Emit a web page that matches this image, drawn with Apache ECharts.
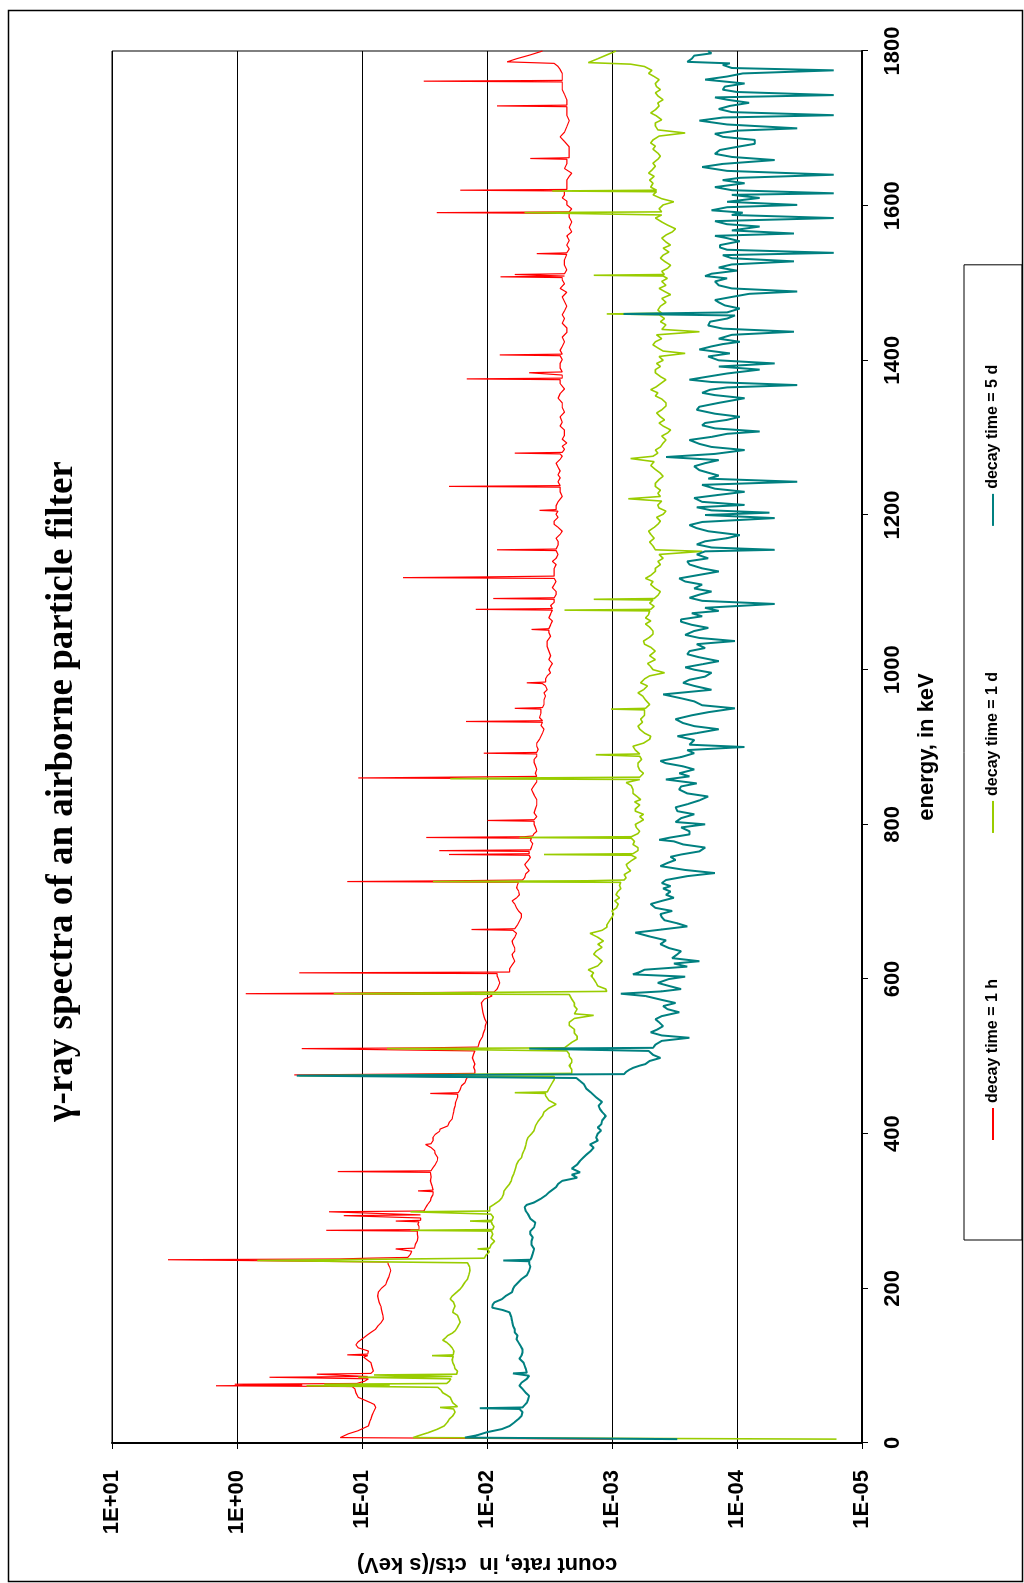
<!DOCTYPE html>
<html>
<head>
<meta charset="utf-8">
<title>gamma spectra</title>
<script src="https://cdn.jsdelivr.net/npm/echarts@6/dist/echarts.min.js"></script>
<style>
  html, body { margin: 0; padding: 0; background: #fff; overflow: hidden; }
  body { width: 1024px; height: 1583px; position: relative; }
  /* chart is drawn landscape and turned a quarter turn to the left */
  #chart {
    position: absolute; left: 0; top: 0;
    width: 1583px; height: 1024px;
    transform-origin: 0 0;
    transform: translate(0px, 1583px) rotate(-90deg);
  }
</style>
</head>
<body>
<div id="chart"></div>
<script>
// ---- data: [energy keV, count rate cts/(s keV)] ----
const seriesNames = ['decay time = 1 h', 'decay time = 1 d', 'decay time = 5 d'];
const energyTicks = [0, 200, 400, 600, 800, 1000, 1200, 1400, 1600, 1800];

const rate1h = [
  [5,1.0e-3],[7,0.149],[12,0.128],[16,0.107],[22,0.089],[27,0.087],[31,0.085],[36,0.083],[40,0.081],[46,0.0775],
  [50,0.08],[52,0.085],[56,0.097],[59,0.107],[65,0.112],[70,0.114],[73,0.12],[74,1.47],[75,0.3],[76,1.04],[77,0.11],
  [80,0.095],[83,0.089],[85,0.55],[86,0.09],[89,0.23],[90,0.085],[93,0.081],[98,0.083],[104,0.085],[108,0.092],
  [111,0.097],[113,0.09],[114,0.131],[115,0.09],[119,0.089],[123,0.107],[127,0.112],[131,0.107],[136,0.097],
  [140,0.09],[143,0.085],[147,0.078],[152,0.074],[156,0.07],[160,0.0675],[165,0.068],[169,0.069],[173,0.07],
  [177,0.0707],[182,0.073],[186,0.074],[190,0.075],[195,0.074],[200,0.07],[205,0.0645],[210,0.063],[215,0.061],
  [219,0.06],[223,0.0589],[227,0.06],[231,0.0617],[234,0.062],[236,0.062],[237,3.56],[238,0.15],[239,0.089],
  [240,0.043],[244,0.041],[248,0.04],[251,0.0538],[252,0.038],[257,0.0374],[262,0.036],[266,0.0357],[270,0.036],
  [274,0.036],[275,0.193],[276,0.035],[280,0.035],[283,0.0357],[286,0.035],[287,0.0538],[288,0.034],[291,0.034],
  [293,0.034],[294,0.14],[295,0.034],[297,0.033],[299,0.184],[300,0.032],[304,0.031],[308,0.03],[313,0.0284],
  [317,0.028],[321,0.0271],[325,0.027],[326,0.0357],[327,0.027],[332,0.0275],[339,0.0284],[344,0.028],[350,0.0284],
  [351,0.156],[352,0.028],[356,0.027],[360,0.0259],[365,0.025],[369,0.0248],[374,0.026],[378,0.0262],[382,0.028],
  [386,0.031],[387,0.028],[391,0.027],[395,0.0271],[399,0.026],[403,0.024],[406,0.0237],[410,0.0206],[415,0.02],
  [419,0.019],[423,0.0188],[428,0.0185],[432,0.0183],[436,0.018],[441,0.0178],[447,0.0172],[451,0.0172],
  [452,0.0284],[453,0.017],[457,0.0164],[462,0.016],[466,0.015],[470,0.0147],[473,0.0143],[475,0.0143],
  [476,0.349],[477,0.05],[478,0.0125],[482,0.0125],[486,0.0128],[490,0.0125],[494,0.0128],[498,0.0131],
  [503,0.0128],[507,0.0125],[509,0.0125],[510,0.304],[511,0.03],[512,0.0118],[516,0.0116],[520,0.0114],
  [525,0.0109],[530,0.0107],[535,0.0104],[540,0.0103],[544,0.0101],[548,0.0104],[552,0.0106],[557,0.0108],
  [561,0.0109],[565,0.011],[569,0.0111],[574,0.0105],[578,0.0091],[580,0.0095],[581,0.853],[582,0.1],
  [583,0.0088],[587,0.0083],[591,0.0081],[595,0.0079],[600,0.0081],[604,0.0083],[607,0.0083],[608,0.318],
  [609,0.0066],[613,0.0066],[618,0.0063],[623,0.006],[628,0.0062],[632,0.0063],[636,0.006],[640,0.006],
  [645,0.0062],[649,0.0063],[654,0.006],[659,0.0058],[663,0.0062],[664,0.0133],[665,0.006],[670,0.0057],
  [675,0.0055],[680,0.0053],[684,0.0053],[688,0.0056],[692,0.0058],[697,0.006],[701,0.0063],[705,0.0058],
  [709,0.0055],[714,0.0056],[718,0.0058],[722,0.0057],[725,0.0056],[726,0.131],[727,0.02],[728,0.0052],
  [731,0.005],[736,0.0049],[740,0.0046],[744,0.0048],[748,0.005],[753,0.0047],[757,0.0045],[760,0.0046],
  [761,0.0201],[762,0.0046],[765,0.0046],[766,0.0241],[767,0.0045],[771,0.0044],[775,0.0043],[779,0.0045],
  [782,0.0044],[783,0.0306],[784,0.005],[785,0.0043],[788,0.0042],[791,0.004],[796,0.0041],[800,0.0042],
  [804,0.0042],[805,0.0099],[806,0.0042],[810,0.004],[815,0.0042],[820,0.0041],[825,0.004],[832,0.004],
  [838,0.0042],[845,0.0044],[850,0.0042],[855,0.004],[859,0.004],[860,0.107],[861,0.02],[862,0.004],
  [866,0.0041],[871,0.004],[876,0.0041],[880,0.0042],[884,0.0042],[888,0.004],[891,0.004],[892,0.0106],
  [893,0.004],[897,0.0039],[901,0.004],[905,0.004],[910,0.0038],[914,0.0037],[918,0.0036],[923,0.0035],
  [928,0.0037],[932,0.0036],[933,0.0147],[934,0.0036],[938,0.0038],[944,0.0037],[949,0.0037],[950,0.006],
  [951,0.0036],[955,0.0035],[961,0.0035],[966,0.0034],[970,0.0035],[974,0.0033],[979,0.0034],[982,0.0036],
  [983,0.0048],[984,0.0034],[988,0.0034],[992,0.0033],[996,0.0031],[1000,0.0032],[1004,0.0031],[1008,0.003],
  [1013,0.0032],[1018,0.0031],[1024,0.0032],[1030,0.0033],[1037,0.0033],[1043,0.0031],[1048,0.0032],
  [1051,0.0032],[1052,0.0044],[1053,0.0032],[1058,0.0031],[1063,0.003],[1067,0.0032],[1072,0.0031],
  [1077,0.003],[1078,0.0123],[1079,0.003],[1083,0.0031],[1087,0.0029],[1091,0.0029],[1092,0.0089],
  [1093,0.0029],[1097,0.0028],[1101,0.0028],[1106,0.003],[1110,0.0029],[1114,0.0028],[1118,0.0029],
  [1119,0.047],[1120,0.01],[1121,0.0029],[1126,0.0029],[1131,0.0029],[1136,0.0028],[1140,0.003],[1144,0.0028],
  [1149,0.0027],[1154,0.0028],[1155,0.0083],[1156,0.0028],[1161,0.0027],[1166,0.0027],[1170,0.0028],
  [1175,0.0026],[1179,0.0025],[1184,0.0027],[1188,0.0029],[1192,0.0029],[1197,0.0027],[1201,0.0028],
  [1205,0.0027],[1206,0.0038],[1207,0.0028],[1212,0.0028],[1217,0.0027],[1224,0.0025],[1230,0.0026],
  [1236,0.0026],[1237,0.0201],[1238,0.0026],[1243,0.0027],[1248,0.0026],[1252,0.0027],[1257,0.0026],
  [1262,0.0027],[1267,0.0028],[1272,0.0026],[1276,0.0025],[1279,0.0026],[1280,0.006],[1281,0.0025],
  [1285,0.0024],[1289,0.0025],[1293,0.0023],[1298,0.0025],[1303,0.0024],[1310,0.0024],[1315,0.0026],
  [1320,0.0025],[1327,0.0026],[1333,0.0024],[1339,0.0025],[1345,0.0025],[1351,0.0027],[1357,0.0026],
  [1363,0.0024],[1370,0.0026],[1375,0.0026],[1376,0.0145],[1377,0.0025],[1381,0.0025],[1383,0.0025],
  [1384,0.0046],[1385,0.0025],[1390,0.0026],[1396,0.0026],[1401,0.0025],[1406,0.0026],[1407,0.0079],
  [1408,0.0025],[1413,0.0026],[1418,0.0025],[1424,0.0024],[1430,0.0025],[1436,0.0023],[1442,0.0023],
  [1448,0.0025],[1454,0.0024],[1459,0.0025],[1464,0.0024],[1470,0.0023],[1476,0.0024],[1482,0.0025],
  [1488,0.0023],[1493,0.0026],[1499,0.0024],[1504,0.0025],[1507,0.0025],[1508,0.0078],[1509,0.0024],
  [1511,0.006],[1512,0.0024],[1517,0.0023],[1523,0.0024],[1530,0.0024],[1537,0.0023],[1538,0.004],
  [1539,0.0023],[1544,0.0022],[1549,0.0023],[1555,0.0022],[1561,0.0023],[1566,0.0021],[1572,0.0022],
  [1579,0.0021],[1585,0.0022],[1590,0.0022],[1591,0.0252],[1592,0.0022],[1596,0.0021],[1601,0.0023],
  [1606,0.0023],[1610,0.0025],[1614,0.0024],[1619,0.0024],[1620,0.0164],[1621,0.0023],[1626,0.0023],
  [1633,0.0023],[1638,0.0022],[1642,0.0021],[1648,0.0024],[1654,0.0023],[1660,0.0023],[1661,0.0045],
  [1662,0.0022],[1668,0.0022],[1676,0.0022],[1683,0.0024],[1689,0.0026],[1695,0.0024],[1702,0.0023],
  [1710,0.0022],[1717,0.0023],[1724,0.0023],[1728,0.0023],[1729,0.0083],[1730,0.0023],[1737,0.0023],
  [1744,0.0024],[1750,0.0025],[1755,0.0025],[1760,0.0025],[1761,0.032],[1762,0.0025],[1766,0.0025],
  [1771,0.0025],[1776,0.0026],[1780,0.0027],[1784,0.0029],[1786,0.0069],[1790,0.0058],[1795,0.0045],[1800,0.0036]
];

const rate1d = [
  [5,1.6e-5],[7,0.039],[9,0.036],[13,0.03],[18,0.0248],[22,0.022],[27,0.0207],[31,0.02],[35,0.0188],[40,0.018],
  [44,0.0185],[46,0.0237],[47,0.0172],[52,0.0188],[56,0.0193],[59,0.0197],[62,0.021],[65,0.0226],[69,0.0235],
  [72,0.0248],[73,0.025],[74,0.278],[75,0.06],[76,0.2],[77,0.021],[80,0.02],[83,0.0195],[85,0.107],[86,0.019],
  [88,0.08],[89,0.0175],[93,0.0172],[96,0.018],[100,0.0183],[104,0.0188],[108,0.019],[112,0.0186],[113,0.0275],
  [114,0.0186],[119,0.0184],[123,0.019],[126,0.0197],[130,0.021],[133,0.0226],[136,0.0215],[139,0.0206],
  [142,0.019],[145,0.018],[150,0.0172],[156,0.0164],[161,0.0168],[165,0.0172],[169,0.0188],[173,0.0185],
  [177,0.018],[182,0.0185],[186,0.0197],[190,0.019],[195,0.0175],[199,0.0164],[203,0.0157],[208,0.015],
  [212,0.0143],[217,0.014],[223,0.0137],[228,0.0138],[233,0.0143],[235,0.0141],[236,0.69],[239,0.0105],
  [243,0.0102],[247,0.0096],[250,0.0098],[251,0.0119],[252,0.0095],[256,0.0093],[261,0.0087],[265,0.0093],
  [270,0.009],[274,0.0092],[275,0.0409],[276,0.009],[280,0.0088],[283,0.0091],[286,0.0092],[287,0.0137],
  [288,0.0091],[292,0.0089],[296,0.0093],[298,0.0095],[299,0.0409],[300,0.0095],[305,0.0095],[309,0.0087],
  [313,0.008],[317,0.0076],[321,0.0074],[326,0.0073],[330,0.007],[335,0.0066],[339,0.0064],[343,0.0063],
  [348,0.0061],[352,0.006],[356,0.0059],[360,0.0058],[365,0.0056],[369,0.0053],[374,0.0052],[380,0.005],
  [385,0.0049],[391,0.0048],[395,0.0047],[400,0.0044],[404,0.0042],[410,0.0041],[416,0.0039],[423,0.0036],
  [428,0.0035],[433,0.0032],[438,0.0028],[443,0.0032],[449,0.0034],[452,0.0034],[453,0.006],[454,0.0033],
  [458,0.0032],[462,0.0031],[466,0.003],[470,0.0029],[474,0.0029],[475,0.318],[476,0.05],[478,0.0021],
  [483,0.0021],[488,0.0022],[492,0.0021],[496,0.0021],[500,0.0022],[503,0.0022],[507,0.0023],[509,0.0023],
  [510,0.063],[511,0.0024],[513,0.0024],[518,0.0021],[522,0.0019],[526,0.0019],[530,0.002],[535,0.002],
  [540,0.0022],[544,0.0022],[549,0.002],[553,0.0014],[555,0.002],[561,0.0019],[565,0.002],[569,0.002],
  [574,0.0021],[580,0.0022],[581,0.168],[584,0.0011],[587,0.00112],[591,0.0013],[595,0.00134],[600,0.0014],
  [604,0.00147],[608,0.0014],[612,0.00155],[617,0.0013],[623,0.0012],[628,0.0013],[632,0.0014],[636,0.00134],
  [641,0.0012],[645,0.0013],[649,0.00117],[654,0.0013],[659,0.0015],[663,0.0012],[667,0.0011],[670,0.0011],
  [675,0.00105],[680,0.001],[684,0.00097],[688,0.001],[692,0.00092],[697,0.00089],[701,0.00095],[705,0.00087],
  [709,0.00093],[713,0.0009],[717,0.00085],[721,0.00087],[725,0.00085],[726,0.027],[727,0.0016],[728,0.0008],
  [731,0.00077],[735,0.0008],[740,0.00071],[744,0.00075],[748,0.00077],[753,0.0007],[757,0.00064],[760,0.0007],
  [761,0.0035],[762,0.00068],[766,0.00062],[770,0.00062],[774,0.00068],[778,0.00066],[782,0.0007],[783,0.0055],
  [784,0.0007],[788,0.00062],[791,0.0006],[796,0.00064],[800,0.00065],[803,0.0006],[806,0.00056],[810,0.0006],
  [813,0.00056],[817,0.00065],[820,0.00065],[825,0.0006],[829,0.00066],[832,0.00059],[836,0.00063],
  [840,0.00068],[845,0.00068],[850,0.0007],[854,0.00077],[858,0.0006],[859,0.0197],[860,0.005],[861,0.0006],
  [866,0.00056],[870,0.0006],[875,0.00062],[879,0.00062],[884,0.00058],[888,0.0006],[890,0.00135],[891,0.0006],
  [896,0.00065],[901,0.00068],[905,0.00056],[910,0.0005],[914,0.00049],[918,0.00055],[923,0.0006],[927,0.00062],
  [932,0.00057],[936,0.00059],[941,0.00055],[948,0.00055],[949,0.00102],[950,0.00054],[955,0.0005],
  [961,0.00054],[966,0.00057],[970,0.00062],[974,0.00056],[979,0.00052],[983,0.00059],[988,0.00055],
  [992,0.0005],[996,0.00038],[1000,0.00047],[1004,0.00049],[1008,0.00052],[1013,0.00045],[1018,0.0005],
  [1024,0.00045],[1029,0.00049],[1033,0.00055],[1037,0.00056],[1042,0.0005],[1046,0.00047],[1050,0.00047],
  [1055,0.0005],[1059,0.00054],[1063,0.00049],[1067,0.00054],[1071,0.00051],[1076,0.0005],[1077,0.0024],
  [1078,0.00049],[1082,0.00046],[1086,0.0005],[1090,0.00047],[1091,0.0014],[1092,0.00046],[1096,0.00043],
  [1101,0.00041],[1105,0.00045],[1110,0.00049],[1114,0.00047],[1118,0.00054],[1122,0.00049],[1127,0.00045],
  [1131,0.00045],[1136,0.00041],[1140,0.00043],[1144,0.00039],[1149,0.00042],[1153,0.00019],[1155,0.00045],
  [1160,0.00047],[1165,0.0005],[1170,0.00046],[1175,0.00049],[1179,0.00051],[1184,0.00046],[1188,0.00043],
  [1192,0.00041],[1197,0.00044],[1201,0.00039],[1205,0.00037],[1209,0.00042],[1213,0.00043],[1218,0.0004],
  [1221,0.00074],[1224,0.00041],[1228,0.00043],[1232,0.00041],[1237,0.00045],[1241,0.00045],[1246,0.00042],
  [1250,0.00039],[1254,0.00041],[1259,0.00045],[1264,0.00049],[1269,0.00046],[1273,0.00071],[1276,0.00047],
  [1280,0.00043],[1284,0.00045],[1288,0.00041],[1293,0.00039],[1297,0.00037],[1302,0.0004],[1306,0.00036],
  [1310,0.00034],[1315,0.00039],[1319,0.00042],[1323,0.00038],[1327,0.00041],[1332,0.00044],[1336,0.0004],
  [1341,0.00037],[1345,0.00037],[1350,0.0004],[1354,0.00045],[1358,0.00043],[1362,0.00049],[1366,0.00044],
  [1371,0.0004],[1375,0.00037],[1379,0.00041],[1384,0.00045],[1388,0.00045],[1392,0.00041],[1396,0.00044],
  [1400,0.00039],[1405,0.00042],[1409,0.00026],[1412,0.00039],[1416,0.00043],[1420,0.00047],[1424,0.00045],
  [1428,0.0004],[1433,0.00044],[1437,0.0002],[1440,0.0004],[1446,0.00037],[1450,0.00041],[1454,0.00038],
  [1459,0.00042],[1460,0.0011],[1461,0.0004],[1465,0.00043],[1470,0.00041],[1475,0.00037],[1480,0.0004],
  [1485,0.00034],[1489,0.00038],[1493,0.00042],[1497,0.00037],[1502,0.0004],[1506,0.00036],[1509,0.00039],
  [1510,0.0014],[1511,0.00038],[1515,0.0004],[1519,0.00036],[1523,0.00034],[1528,0.00038],[1532,0.00041],
  [1536,0.00039],[1540,0.00035],[1545,0.00039],[1549,0.00034],[1553,0.00037],[1558,0.0004],[1562,0.00037],
  [1566,0.00033],[1570,0.00031],[1575,0.00036],[1579,0.0004],[1584,0.00045],[1588,0.0004],[1590,0.0004],
  [1591,0.005],[1592,0.0004],[1596,0.00042],[1601,0.00039],[1605,0.00032],[1609,0.0004],[1614,0.00047],
  [1618,0.00044],[1619,0.003],[1620,0.00044],[1624,0.00049],[1629,0.00047],[1633,0.0005],[1638,0.00046],
  [1642,0.00051],[1646,0.00048],[1651,0.00045],[1655,0.00047],[1660,0.00043],[1664,0.00041],[1668,0.00043],
  [1673,0.00047],[1677,0.00045],[1681,0.00049],[1685,0.00047],[1690,0.00042],[1694,0.00026],[1698,0.00043],
  [1703,0.00045],[1707,0.00045],[1711,0.0004],[1716,0.00044],[1720,0.00049],[1724,0.00045],[1729,0.00042],
  [1733,0.00043],[1737,0.00039],[1742,0.00043],[1746,0.00045],[1750,0.00041],[1754,0.00044],[1758,0.00045],
  [1763,0.00042],[1767,0.00046],[1771,0.00051],[1775,0.00048],[1780,0.00055],[1783,0.00071],[1785,0.00155],
  [1790,0.0013],[1795,0.0011],[1800,0.00093]
];

const rate5d = [
  [5,3.0e-4],[7,0.015],[10,0.012],[14,0.01],[18,0.0076],[22,0.0066],[27,0.006],[31,0.0056],[35,0.0053],[40,0.0052],
  [44,0.0055],[45,0.0114],[46,0.0052],[49,0.005],[52,0.0048],[56,0.0047],[61,0.0046],[65,0.0049],[70,0.0052],
  [74,0.0055],[78,0.0053],[83,0.0048],[87,0.0046],[90,0.0062],[91,0.0048],[96,0.0049],[100,0.005],[104,0.0051],
  [109,0.0055],[113,0.0053],[117,0.0052],[121,0.0052],[126,0.0054],[130,0.0056],[134,0.0058],[139,0.0057],
  [143,0.006],[147,0.006],[152,0.0062],[158,0.0063],[163,0.0064],[169,0.0066],[172,0.0075],[175,0.0091],
  [179,0.009],[182,0.0087],[186,0.0076],[190,0.0071],[195,0.0063],[199,0.0062],[203,0.006],[208,0.0056],
  [212,0.0053],[217,0.0048],[223,0.0046],[228,0.0045],[232,0.0046],[235,0.0046],[236,0.0074],[237,0.0045],
  [240,0.0044],[245,0.0043],[251,0.0042],[256,0.0044],[261,0.0044],[266,0.0043],[270,0.0045],[274,0.0045],
  [279,0.0042],[285,0.0041],[290,0.0045],[296,0.0047],[300,0.0049],[305,0.005],[308,0.0048],[311,0.0042],
  [316,0.0037],[320,0.0034],[324,0.0032],[326,0.0031],[331,0.0028],[335,0.0027],[339,0.0025],[343,0.0019],
  [347,0.0021],[350,0.0018],[355,0.0021],[360,0.0019],[365,0.0018],[369,0.0017],[373,0.0016],[378,0.00147],
  [382,0.0014],[386,0.0015],[391,0.0013],[395,0.00134],[400,0.0013],[404,0.00122],[408,0.0013],[412,0.00122],
  [417,0.0012],[423,0.00112],[428,0.0012],[432,0.00125],[436,0.00128],[441,0.0012],[447,0.00134],[453,0.00147],
  [458,0.0016],[464,0.00168],[468,0.0018],[472,0.00193],[474,0.002],[475,0.333],[477,0.0008],[480,0.00077],
  [483,0.00072],[485,0.00068],[488,0.0006],[490,0.00054],[494,0.0005],[498,0.00041],[502,0.00047],[507,0.00051],
  [509,0.0005],[510,0.0046],[511,0.00047],[515,0.00045],[520,0.0004],[524,0.00024],[527,0.0004],[531,0.00049],
  [535,0.00043],[539,0.00039],[544,0.00042],[548,0.00045],[552,0.0004],[557,0.00029],[561,0.00036],
  [565,0.00039],[569,0.00031],[573,0.0004],[578,0.00054],[581,0.00085],[584,0.0004],[587,0.00028],[591,0.00035],
  [595,0.00043],[600,0.00035],[603,0.00026],[606,0.00068],[609,0.0006],[612,0.00055],[616,0.00025],[620,0.00032],
  [623,0.0002],[627,0.00033],[632,0.0003],[636,0.00028],[640,0.00035],[645,0.00041],[650,0.00037],[655,0.0005],
  [660,0.00065],[664,0.0004],[668,0.00025],[672,0.0003],[676,0.00038],[680,0.0004],[684,0.00041],[688,0.00033],
  [692,0.00045],[697,0.00049],[701,0.0004],[705,0.00032],[709,0.00037],[713,0.00034],[717,0.00039],[720,0.00034],
  [724,0.0004],[728,0.00037],[733,0.00025],[737,0.00015],[741,0.00026],[746,0.00041],[750,0.00036],[754,0.00031],
  [758,0.00034],[761,0.00028],[765,0.0002],[770,0.00018],[774,0.00027],[778,0.00032],[780,0.00042],[783,0.00034],
  [787,0.00024],[791,0.00024],[796,0.00028],[800,0.00018],[803,0.00031],[808,0.00028],[813,0.00022],[817,0.0003],
  [822,0.00031],[826,0.00025],[831,0.0002],[836,0.00017],[840,0.00025],[845,0.00029],[849,0.00028],[853,0.00021],
  [858,0.00037],[862,0.00024],[866,0.00029],[871,0.00022],[875,0.00027],[879,0.00037],[882,0.00041],[887,0.00028],
  [892,0.00022],[896,0.00025],[900,0.000087],[903,0.00024],[909,0.00022],[914,0.0003],[918,0.00021],[923,0.00014],
  [927,0.00022],[931,0.00027],[936,0.00031],[941,0.00023],[945,0.00017],[950,0.000104],[954,0.00019],[959,0.00022],
  [963,0.00028],[968,0.00039],[971,0.00025],[974,0.00016],[979,0.00022],[983,0.00027],[987,0.00024],[991,0.00018],
  [996,0.00016],[1000,0.00022],[1003,0.00026],[1007,0.00019],[1011,0.00014],[1016,0.0002],[1020,0.00025],
  [1024,0.00024],[1028,0.00018],[1033,0.00021],[1037,0.000104],[1041,0.0002],[1045,0.00026],[1050,0.00022],
  [1054,0.00017],[1058,0.00023],[1062,0.00028],[1065,0.00028],[1069,0.00019],[1073,0.00023],[1076,0.00014],
  [1080,0.00018],[1085,0.00005],[1089,0.00019],[1093,0.00024],[1097,0.0002],[1101,0.00016],[1105,0.00022],
  [1110,0.00019],[1114,0.00026],[1118,0.00029],[1122,0.00021],[1127,0.00014],[1131,0.00019],[1136,0.00024],
  [1140,0.00025],[1144,0.00017],[1149,0.00021],[1153,0.00018],[1155,0.00005],[1158,0.00016],[1162,0.00021],
  [1166,0.00018],[1170,0.00012],[1174,0.000095],[1179,0.00017],[1183,0.00021],[1187,0.00024],[1191,0.00019],
  [1196,0.00005],[1200,0.00018],[1203,0.000055],[1206,0.00016],[1210,0.00021],[1213,0.000087],[1217,0.00019],
  [1222,0.00022],[1226,0.00014],[1230,0.000087],[1234,0.00015],[1239,0.00019],[1243,0.000033],[1247,0.00017],
  [1251,0.00014],[1254,0.000164],[1258,0.0002],[1263,0.00022],[1267,0.00018],[1271,0.00014],[1275,0.00037],
  [1279,0.00015],[1284,0.000087],[1288,0.00016],[1292,0.0002],[1297,0.00024],[1301,0.00016],[1305,0.00012],
  [1308,0.000066],[1312,0.00015],[1316,0.00019],[1319,0.00018],[1323,0.00012],[1327,0.000095],[1331,0.00015],
  [1336,0.00021],[1340,0.0002],[1345,0.00014],[1351,0.000087],[1355,0.00015],[1358,0.00019],[1362,0.000164],
  [1365,0.00012],[1368,0.000033],[1372,0.00016],[1375,0.00024],[1379,0.00017],[1383,0.00012],[1388,0.000066],
  [1392,0.00014],[1396,0.00005],[1400,0.00014],[1405,0.00017],[1409,0.000114],[1414,0.0002],[1418,0.00016],
  [1421,0.00013],[1424,0.000095],[1428,0.00014],[1433,0.00011],[1437,0.000035],[1441,0.00013],[1445,0.00017],
  [1450,0.000164],[1454,0.00012],[1458,0.000104],[1460,0.00081],[1462,0.00012],[1467,0.000095],[1471,0.000125],
  [1475,0.00014],[1478,0.00015],[1482,0.00011],[1486,0.00008],[1489,0.000033],[1493,0.00011],[1497,0.00014],
  [1502,0.00015],[1506,0.00012],[1509,0.00018],[1512,0.00016],[1516,0.0001],[1520,0.00014],[1524,0.00011],
  [1528,0.000035],[1532,0.00011],[1536,0.00013],[1539,0.0000168],[1543,0.00012],[1546,0.000137],[1549,0.000137],
  [1554,0.000095],[1558,0.00012],[1561,0.00015],[1564,0.000035],[1568,0.00011],[1573,0.000066],[1576,0.00012],
  [1580,0.00015],[1584,0.0000168],[1588,0.00011],[1591,0.00009],[1594,0.00016],[1598,0.00012],[1601,0.000033],
  [1605,0.00012],[1610,0.000066],[1614,0.00011],[1616,0.0000168],[1620,0.00011],[1624,0.00015],[1629,0.000087],
  [1633,0.00013],[1636,0.000095],[1640,0.0000168],[1645,0.00012],[1650,0.00019],[1654,0.00013],[1659,0.00005],
  [1663,0.00011],[1667,0.00015],[1672,0.000137],[1676,0.0001],[1680,0.000072],[1685,0.000072],[1689,0.00013],
  [1693,0.00015],[1697,0.0001],[1700,0.000033],[1705,0.00012],[1710,0.0002],[1714,0.00013],[1717,0.0000168],
  [1721,0.00011],[1725,0.00014],[1729,0.000114],[1733,0.00008],[1737,0.00012],[1740,0.00015],[1743,0.0000168],
  [1747,0.0001],[1750,0.00013],[1754,0.000125],[1758,0.000087],[1763,0.00018],[1767,0.00012],[1771,0.00009],
  [1775,0.0000168],[1778,0.00011],[1782,0.00013],[1784,0.000114],[1786,0.00025],[1790,0.00023],[1794,0.00022],
  [1797,0.00016],[1800,0.00017]
];

const colors = ['#ff0000', '#99cc00', '#008080'];
const widths = [1.2, 1.6, 2];

// 1E+01 style labels for the count-rate axis
function sciLabel(v) {
  const e = Math.round(Math.log10(v));
  return '1E' + (e < 0 ? '-' : '+') + String(Math.abs(e)).padStart(2, '0');
}

const font = '"Liberation Sans", Arial, sans-serif';
let myChart = echarts.init(document.getElementById('chart'), null, {renderer: 'canvas'});

myChart.setOption({
  animation: false,
  backgroundColor: '#fff',
  color: colors,
  title: {
    text: '\u03b3-ray spectra of an airborne particle filter',
    left: 'center',
    top: 39,
    textStyle: {fontFamily: '"Liberation Serif", "Times New Roman", serif', fontWeight: 'bold', fontSize: 37, color: '#000'}
  },
  grid: {
    left: 139, right: 51, top: 112, bottom: 162,
    show: true, borderColor: '#000', borderWidth: 1, backgroundColor: 'transparent'
  },
  legend: {
    data: seriesNames,
    left: 343, top: 964,
    padding: [21, 100, 21, 100],
    itemGap: 146,
    itemWidth: 32, itemHeight: 2,
    icon: 'rect',
    borderColor: '#000', borderWidth: 1,
    textStyle: {fontFamily: font, fontWeight: 'bold', fontSize: 16, color: '#000'}
  },
  xAxis: {
    type: 'value',
    min: 0, max: 1800, interval: 200,
    name: 'energy, in keV',
    nameLocation: 'middle',
    nameGap: 54,
    nameTextStyle: {fontFamily: font, fontWeight: 'bold', fontSize: 22, color: '#000'},
    axisLine: {show: true, onZero: false, lineStyle: {color: '#000', width: 2}},
    axisTick: {show: true, inside: false, length: 6, lineStyle: {color: '#000', width: 1}},
    axisLabel: {fontFamily: font, fontWeight: 'bold', fontSize: 22, color: '#000', margin: 20,
      formatter: function (v) { return String(v); }},
    splitLine: {show: false}
  },
  yAxis: {
    type: 'log',
    logBase: 10,
    min: 1e-5, max: 10,
    name: 'count rate, in  cts/(s keV)',
    nameLocation: 'middle',
    nameRotate: 90,
    nameGap: 110,
    nameTextStyle: {fontFamily: font, fontWeight: 'bold', fontSize: 22, color: '#000'},
    axisLine: {show: true, lineStyle: {color: '#000', width: 2}},
    axisTick: {show: true, inside: false, length: 6, lineStyle: {color: '#000', width: 1}},
    minorTick: {show: false},
    axisLabel: {fontFamily: font, fontWeight: 'bold', fontSize: 22, color: '#000', margin: 27, formatter: sciLabel},
    splitLine: {show: true, lineStyle: {color: '#000', width: 1}}
  },
  graphic: [{
    type: 'rect',
    shape: {x: 1.5, y: 8.5, width: 1571, height: 1014},
    style: {fill: null, stroke: '#000', lineWidth: 1.5},
    silent: true
  }],
  series: [
    {name: seriesNames[0], type: 'line', data: rate1h, symbol: 'none', lineStyle: {width: widths[0], color: colors[0]}, z: 2},
    {name: seriesNames[1], type: 'line', data: rate1d, symbol: 'none', lineStyle: {width: widths[1], color: colors[1]}, z: 3},
    {name: seriesNames[2], type: 'line', data: rate5d, symbol: 'none', lineStyle: {width: widths[2], color: colors[2]}, z: 4}
  ]
});
</script>
</body>
</html>
